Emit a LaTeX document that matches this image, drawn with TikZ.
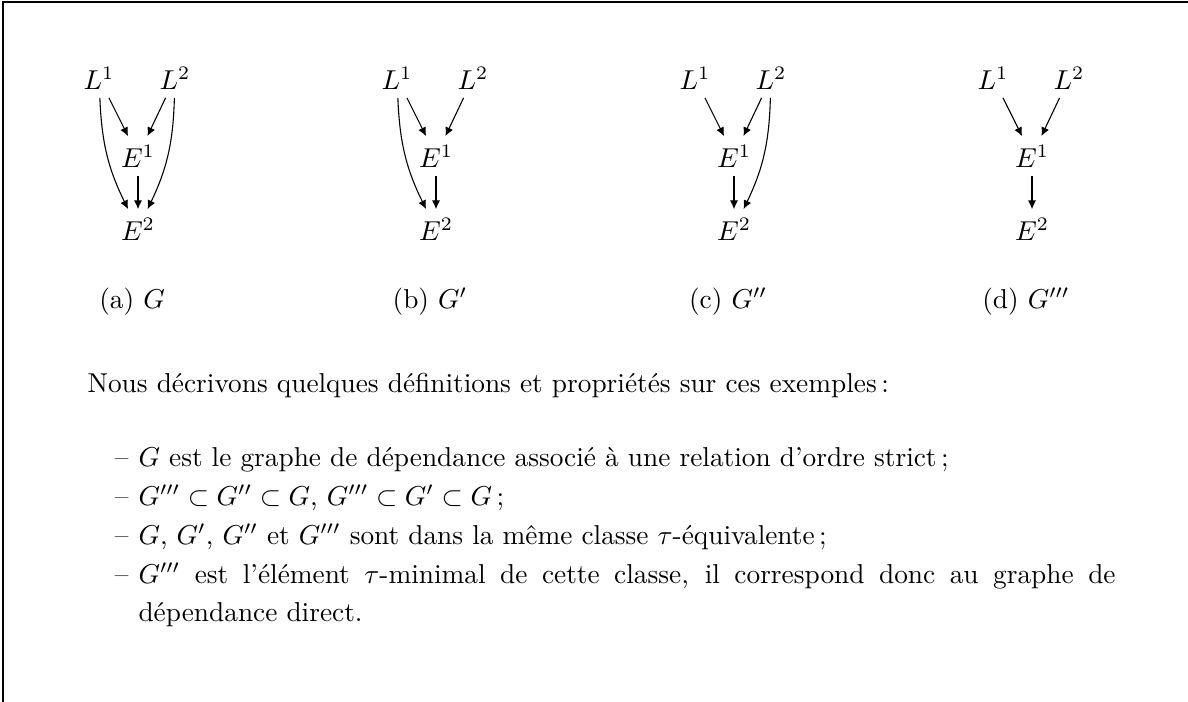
\documentclass[tikz,border=0pt]{standalone}
\usepackage{fontspec}
\usetikzlibrary{arrows.meta}
\begin{document}
\begin{tikzpicture}[x=0.366pt,y=-0.366pt,
  v/.style={inner sep=3pt},
  arr/.style={-{Latex[length=3.2pt,width=3pt]}, line width=0.4pt},
  frame/.style={line width=0.8pt},
  txt/.style={anchor=base west, inner sep=0pt},
  dsh/.style={anchor=base east, inner sep=0pt},
  captext/.style={inner sep=0pt}]
\useasboundingbox (0,0) rectangle (1188,702);
\draw[frame] (3,702) -- (3,2) -- (1188,2);
% (a)
\node[v] (La1) at (99,78) {$L^1$};
\node[v] (La2) at (175,78) {$L^2$};
\node[v] (Ea1) at (138,156) {$E^1$};
\node[v] (Ea2) at (138,229) {$E^2$};
\draw[arr] (La1) -- (Ea1);
\draw[arr] (La2) -- (Ea1);
\draw[arr] (Ea1) -- (Ea2);
\draw[arr] (La1) to[bend right=12] (Ea2);
\draw[arr] (La2) to[bend left=12] (Ea2);
\node[captext] (Ca) at (132,302) {(a) $G$};
% (b)
\node[v] (Lb1) at (397,78) {$L^1$};
\node[v] (Lb2) at (473,78) {$L^2$};
\node[v] (Eb1) at (436,156) {$E^1$};
\node[v] (Eb2) at (436,229) {$E^2$};
\draw[arr] (Lb1) -- (Eb1);
\draw[arr] (Lb2) -- (Eb1);
\draw[arr] (Eb1) -- (Eb2);
\draw[arr] (Lb1) to[bend right=12] (Eb2);
\node[captext] (Cb) at (430,302) {(b) $G'$};
% (c)
\node[v] (Lc1) at (695,78) {$L^1$};
\node[v] (Lc2) at (771,78) {$L^2$};
\node[v] (Ec1) at (734,156) {$E^1$};
\node[v] (Ec2) at (734,229) {$E^2$};
\draw[arr] (Lc1) -- (Ec1);
\draw[arr] (Lc2) -- (Ec1);
\draw[arr] (Ec1) -- (Ec2);
\draw[arr] (Lc2) to[bend left=12] (Ec2);
\node[captext] (Cc) at (728,302) {(c) $G''$};
% (d)
\node[v] (Ld1) at (993,78) {$L^1$};
\node[v] (Ld2) at (1069,78) {$L^2$};
\node[v] (Ed1) at (1032,156) {$E^1$};
\node[v] (Ed2) at (1032,229) {$E^2$};
\draw[arr] (Ld1) -- (Ed1);
\draw[arr] (Ld2) -- (Ed1);
\draw[arr] (Ed1) -- (Ed2);
\node[captext] (Cd) at (1026,302) {(d) $G'''$};
% text
\node[txt] (t0) at (87,392) {Nous décrivons quelques définitions et propriétés sur ces exemples\,:};
\node[dsh] (m1) at (129,466) {–};
\node[txt] (t1) at (138,466) {$G$ est le graphe de dépendance associé à une relation d'ordre strict\,;};
\node[dsh] (m2) at (129,505) {–};
\node[txt] (t2) at (138,505) {$G''' \subset G'' \subset G$, $G''' \subset G' \subset G$\,;};
\node[dsh] (m3) at (129,544) {–};
\node[txt] (t3) at (138,544) {$G$, $G'$, $G''$ et $G'''$ sont dans la même classe $\tau$-équivalente\,;};
\node[dsh] (m4) at (129,583) {–};
\node[txt] (t4) at (138,583) {\makebox[357.6pt][s]{$G'''$ est l'élément $\tau$-minimal de cette classe, il correspond donc au graphe de}};
\node[txt] (t5) at (138,621) {dépendance direct.};
\end{tikzpicture}
\end{document}
